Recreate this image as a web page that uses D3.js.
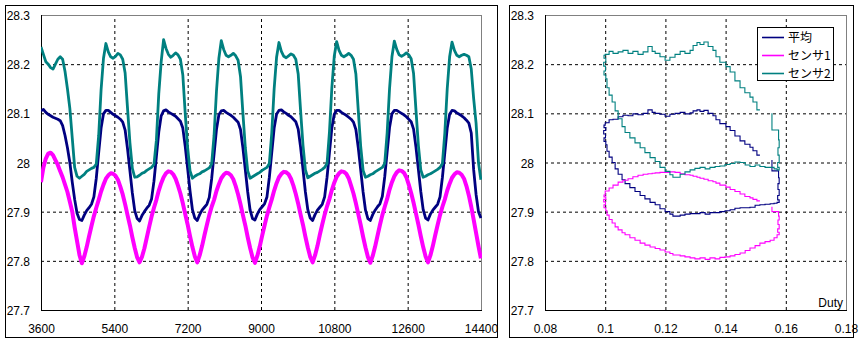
<!DOCTYPE html>
<html>
<head>
<meta charset="utf-8">
<script src="https://cdn.jsdelivr.net/npm/d3@7"></script>
<style>
  html, body { margin: 0; padding: 0; background: #fff; }
  svg { display: block; }
  text { font-family: "Liberation Sans", Arial, sans-serif; font-size: 12px; fill: #000; }
  text.cjk { font-family: "Noto Sans CJK JP", "Noto Sans", sans-serif; }
</style>
</head>
<body>
<svg id="chart" width="865" height="343"></svg>
<script>
// ---- time series: one sample every 59 s starting at 3600 s ----
const T0 = 3600, DT = 59;

const avgTemp = [
  28.105, 28.108, 28.102, 28.098, 28.095, 28.092, 28.09, 28.088, 28.085, 28.075, 28.055, 28.03, 28.0, 27.96, 27.925, 27.897, 27.884,
  27.882, 27.893, 27.902, 27.908, 27.915, 27.93, 27.968, 28.02, 28.07, 28.099, 28.106, 28.106, 28.102, 28.098, 28.095, 28.092, 28.088, 28.082, 28.066, 28.028, 27.983, 27.938, 27.902, 27.886,
  27.881, 27.892, 27.9, 27.907, 27.913, 27.926, 27.962, 28.012, 28.062, 28.095, 28.105, 28.107, 28.103, 28.1, 28.097, 28.094, 28.089, 28.084, 28.07, 28.033, 27.988, 27.942, 27.904, 27.887,
  27.882, 27.894, 27.903, 27.909, 27.915, 27.929, 27.967, 28.017, 28.067, 28.097, 28.105, 28.106, 28.102, 28.099, 28.096, 28.092, 28.087, 28.082, 28.067, 28.03, 27.985, 27.94, 27.903, 27.886,
  27.883, 27.895, 27.904, 27.91, 27.916, 27.93, 27.97, 28.02, 28.07, 28.098, 28.106, 28.107, 28.103, 28.1, 28.096, 28.093, 28.088, 28.083, 28.068, 28.031, 27.986, 27.94, 27.904, 27.887,
  27.882, 27.894, 27.903, 27.909, 27.915, 27.93, 27.97, 28.02, 28.07, 28.098, 28.106, 28.106, 28.102, 28.099, 28.096, 28.092, 28.088, 28.082, 28.067, 28.03, 27.985, 27.94, 27.903, 27.886,
  27.882, 27.894, 27.903, 27.91, 27.916, 27.931, 27.971, 28.021, 28.071, 28.099, 28.106, 28.106, 28.103, 28.1, 28.097, 28.093, 28.088, 28.083, 28.068, 28.031, 27.986, 27.941, 27.904, 27.887,
  27.883, 27.895, 27.903, 27.909, 27.915, 27.93, 27.97, 28.02, 28.07, 28.098, 28.106, 28.105, 28.101, 28.098, 28.095, 28.091, 28.086, 28.08, 28.06, 27.985, 27.935, 27.9, 27.887
];

const sensor1 = [
  27.96, 27.99, 28.008, 28.018, 28.02, 28.015, 28.005, 27.995, 27.982, 27.97, 27.955, 27.94, 27.92, 27.9, 27.868, 27.84, 27.812,
  27.795, 27.809, 27.828, 27.85, 27.871, 27.891, 27.908, 27.924, 27.941, 27.955, 27.967, 27.974, 27.978, 27.977, 27.973, 27.965, 27.951, 27.935, 27.915, 27.893, 27.872, 27.848, 27.826, 27.807,
  27.797, 27.808, 27.825, 27.847, 27.869, 27.89, 27.908, 27.924, 27.943, 27.958, 27.97, 27.978, 27.982, 27.981, 27.976, 27.967, 27.953, 27.937, 27.917, 27.895, 27.874, 27.85, 27.828, 27.809,
  27.797, 27.811, 27.83, 27.852, 27.873, 27.893, 27.91, 27.924, 27.942, 27.956, 27.968, 27.975, 27.979, 27.978, 27.974, 27.966, 27.952, 27.935, 27.915, 27.893, 27.872, 27.848, 27.826, 27.807,
  27.796, 27.81, 27.829, 27.851, 27.872, 27.892, 27.909, 27.925, 27.943, 27.958, 27.97, 27.977, 27.981, 27.98, 27.976, 27.967, 27.953, 27.936, 27.916, 27.894, 27.873, 27.849, 27.827, 27.808,
  27.797, 27.811, 27.83, 27.853, 27.874, 27.894, 27.911, 27.926, 27.944, 27.959, 27.971, 27.978, 27.982, 27.981, 27.977, 27.968, 27.953, 27.937, 27.917, 27.895, 27.873, 27.849, 27.827, 27.808,
  27.796, 27.81, 27.829, 27.851, 27.873, 27.893, 27.91, 27.926, 27.945, 27.96, 27.972, 27.98, 27.984, 27.983, 27.979, 27.97, 27.955, 27.938, 27.918, 27.896, 27.874, 27.85, 27.828, 27.809,
  27.797, 27.811, 27.83, 27.852, 27.873, 27.893, 27.91, 27.925, 27.943, 27.957, 27.969, 27.976, 27.98, 27.979, 27.975, 27.967, 27.952, 27.933, 27.91, 27.884, 27.857, 27.83, 27.805
];

const sensor2 = [
  28.235, 28.22, 28.205, 28.2, 28.193, 28.19, 28.2, 28.21, 28.215, 28.21, 28.185, 28.15, 28.11, 28.05, 27.99, 27.972, 27.968,
  27.972, 27.976, 27.982, 27.985, 27.988, 27.99, 27.997, 28.055, 28.148, 28.212, 28.242, 28.225, 28.215, 28.212, 28.216, 28.222, 28.219, 28.21, 28.182, 28.11, 28.04, 27.988, 27.97, 27.971,
  27.974, 27.978, 27.98, 27.984, 27.987, 27.99, 27.996, 28.045, 28.14, 28.205, 28.25, 28.232, 28.22, 28.214, 28.218, 28.223, 28.219, 28.21, 28.178, 28.1, 28.03, 27.983, 27.968, 27.972,
  27.975, 27.977, 27.981, 27.983, 27.986, 27.989, 27.997, 28.055, 28.145, 28.212, 28.248, 28.23, 28.218, 28.215, 28.218, 28.222, 28.217, 28.208, 28.175, 28.1, 28.03, 27.983, 27.968, 27.971,
  27.974, 27.977, 27.98, 27.984, 27.987, 27.99, 27.998, 28.06, 28.15, 28.214, 28.244, 28.226, 28.216, 28.213, 28.217, 28.221, 28.218, 28.21, 28.18, 28.105, 28.035, 27.985, 27.969, 27.972,
  27.975, 27.978, 27.98, 27.983, 27.986, 27.99, 27.998, 28.062, 28.152, 28.216, 28.246, 28.228, 28.218, 28.215, 28.218, 28.222, 28.218, 28.21, 28.18, 28.105, 28.033, 27.984, 27.97, 27.972,
  27.975, 27.977, 27.981, 27.984, 27.987, 27.99, 27.998, 28.06, 28.15, 28.215, 28.247, 28.23, 28.219, 28.216, 28.219, 28.223, 28.219, 28.211, 28.181, 28.106, 28.035, 27.985, 27.97, 27.972,
  27.975, 27.977, 27.98, 27.983, 27.986, 27.99, 27.998, 28.06, 28.15, 28.215, 28.245, 28.228, 28.218, 28.215, 28.218, 28.22, 28.218, 28.215, 28.19, 28.13, 28.08, 28.0, 27.965
];

// ---- one control cycle: temperature against heater duty ----
const loopDuty = [
  0.1514, 0.1504, 0.1491, 0.1481, 0.1464, 0.1448, 0.1431, 0.1415, 0.1401, 0.1381, 0.1368, 0.1358, 0.1342, 0.1328, 0.1315, 0.1305, 0.1292, 0.1282,
  0.1265, 0.1249, 0.1232, 0.1215, 0.1199, 0.1182, 0.1166, 0.1156, 0.1142, 0.1126, 0.1109, 0.1092, 0.1076, 0.1059, 0.1043, 0.1026, 0.1013, 0.1000,
  0.0996, 0.1002, 0.0995, 0.1001, 0.0996, 0.1002,
  0.1006, 0.1013, 0.1023, 0.1033, 0.1043, 0.1056, 0.1066, 0.1082, 0.1099, 0.1116, 0.1132, 0.1149, 0.1166, 0.1182, 0.1199, 0.1215, 0.1225, 0.1249, 0.1265,
  0.1282, 0.1298, 0.1315, 0.1332, 0.1348, 0.1365, 0.1381, 0.1398, 0.1415, 0.1431, 0.1448, 0.1465, 0.1481, 0.1498, 0.1514, 0.1531, 0.1548, 0.1561, 0.1571,
  0.1578, 0.1573, 0.1578, 0.1574, 0.1578, 0.1576, 0.1554
];

const loopAvg = [
  28.015, 28.024, 28.031, 28.037, 28.044, 28.054, 28.065, 28.073, 28.079, 28.087, 28.095, 28.1, 28.106, 28.104, 28.107, 28.105, 28.101, 28.099,
  28.102, 28.1, 28.098, 28.094, 28.098, 28.1, 28.102, 28.107, 28.1, 28.097, 28.099, 28.095, 28.096, 28.093, 28.088, 28.087, 28.081, 28.076,
  28.071, 28.065, 28.058, 28.05, 28.043, 28.036,
  28.023, 28.011, 28.0, 27.987, 27.976, 27.965, 27.957, 27.949, 27.941, 27.933, 27.926, 27.919, 27.914, 27.906, 27.9, 27.895, 27.891, 27.893, 27.895,
  27.896, 27.896, 27.898, 27.895, 27.898, 27.898, 27.9, 27.902, 27.904, 27.907, 27.908, 27.908, 27.909, 27.913, 27.914, 27.915, 27.916, 27.917, 27.919,
  27.924, 27.933, 27.945, 27.957, 27.969, 27.983, 28.005
];

const loopS1 = [
  27.922, 27.925, 27.928, 27.931, 27.936, 27.941, 27.945, 27.95, 27.954, 27.958, 27.961, 27.963, 27.966, 27.968, 27.97, 27.972, 27.974, 27.975,
  27.977, 27.98, 27.981, 27.98, 27.98, 27.979, 27.978, 27.977, 27.976, 27.974, 27.971, 27.967, 27.964, 27.96, 27.954, 27.948, 27.942, 27.934,
  27.93, 27.925, 27.92, 27.914, 27.908, 27.902,
  27.893, 27.884, 27.877, 27.869, 27.863, 27.857, 27.853, 27.847, 27.842, 27.836, 27.832, 27.828, 27.825, 27.822, 27.818, 27.815, 27.812, 27.81, 27.808,
  27.806, 27.804, 27.806, 27.803, 27.806, 27.804, 27.807, 27.808, 27.81, 27.813, 27.816, 27.821, 27.826, 27.831, 27.836, 27.839, 27.842, 27.847, 27.853,
  27.858, 27.865, 27.874, 27.883, 27.891, 27.9, 27.91
];

const loopS2 = [
  28.107, 28.123, 28.133, 28.142, 28.152, 28.166, 28.184, 28.195, 28.204, 28.215, 28.228, 28.236, 28.245, 28.24, 28.244, 28.238, 28.228, 28.222,
  28.226, 28.22, 28.214, 28.208, 28.215, 28.222, 28.226, 28.236, 28.225, 28.22, 28.226, 28.222, 28.228, 28.225, 28.222, 28.226, 28.22, 28.218,
  28.212, 28.204, 28.196, 28.186, 28.178, 28.17,
  28.152, 28.137, 28.123, 28.105, 28.089, 28.073, 28.061, 28.05, 28.04, 28.03, 28.02, 28.01, 28.002, 27.99, 27.982, 27.975, 27.97, 27.976, 27.981,
  27.985, 27.988, 27.99, 27.987, 27.99, 27.992, 27.993, 27.996, 27.998, 28.001, 28.0, 27.995, 27.992, 27.995, 27.992, 27.99, 27.99, 27.987, 27.985,
  27.99, 28.0, 28.015, 28.03, 28.046, 28.066, 28.1
];

// ---- axes and labels ----
const timeTicks = [3600, 5400, 7200, 9000, 10800, 12600, 14400];
const tempTicks = [27.7, 27.8, 27.9, 28.0, 28.1, 28.2, 28.3];
const dutyTicks = [0.08, 0.10, 0.12, 0.14, 0.16, 0.18];
const seriesNames = ["平均", "センサ1", "センサ2"];
const seriesColors = ["#000080", "#ff00ff", "#008080"];
const dutyTitle = "Duty";

const svg = d3.select("#chart");
svg.append("rect").attr("width", 865).attr("height", 343).attr("fill", "#fff");

const times = avgTemp.map((_, i) => T0 + i * DT);

const xTime = d3.scaleLinear().domain([3600, 14400]).range([41, 481]);
const xDuty = d3.scaleLinear().domain([0.08, 0.18]).range([545, 846]);
const yTemp = d3.scaleLinear().domain([27.7, 28.3]).range([310, 15]);

const fmtTemp = d => String(+d.toFixed(1));
const fmtDuty = d => String(+d.toFixed(2));

// chart-area borders
svg.append("rect").attr("x", 5.5).attr("y", 5.5).attr("width", 492).attr("height", 332)
  .attr("fill", "none").attr("stroke", "#000");
svg.append("rect").attr("x", 509.5).attr("y", 5.5).attr("width", 344).attr("height", 332)
  .attr("fill", "none").attr("stroke", "#000");

function drawFrame(x) {
  const [xa, xb] = x.range();
  const [yb, ya] = yTemp.range();
  const g = svg.append("g");

  // dashed gridlines
  g.append("g").attr("transform", `translate(${xa},0)`)
    .call(d3.axisLeft(yTemp).tickValues(tempTicks.slice(1, -1)).tickSize(-(xb - xa)).tickFormat(""))
    .call(s => s.select(".domain").remove())
    .call(s => s.selectAll("line").attr("stroke", "#000").attr("stroke-dasharray", "3,3"));
  const xt = x === xTime ? timeTicks : dutyTicks;
  g.append("g").attr("transform", `translate(0,${yb})`)
    .call(d3.axisBottom(x).tickValues(xt.slice(1, -1)).tickSize(-(yb - ya)).tickFormat(""))
    .call(s => s.select(".domain").remove())
    .call(s => s.selectAll("line").attr("stroke", "#000").attr("stroke-dasharray", "3,3"));

  // plot area edges: top/right grey, left/bottom black
  g.append("line").attr("x1", xa).attr("x2", xb + 0.5).attr("y1", ya + 0.5).attr("y2", ya + 0.5).attr("stroke", "#808080");
  g.append("line").attr("x1", xb + 0.5).attr("x2", xb + 0.5).attr("y1", ya).attr("y2", yb).attr("stroke", "#808080");
  g.append("line").attr("x1", xa + 0.5).attr("x2", xa + 0.5).attr("y1", ya).attr("y2", yb + 0.5).attr("stroke", "#000");
  g.append("line").attr("x1", xa).attr("x2", xb + 1).attr("y1", yb + 0.5).attr("y2", yb + 0.5).attr("stroke", "#000");

  // tick labels
  g.append("g").attr("transform", `translate(${xa},0)`)
    .call(d3.axisLeft(yTemp).tickValues(tempTicks).tickSize(0).tickPadding(11).tickFormat(fmtTemp))
    .call(s => s.select(".domain").remove())
    .call(s => s.selectAll("text").attr("dy", "0.38em"));
  g.append("g").attr("transform", `translate(0,${yb})`)
    .call(d3.axisBottom(x).tickValues(xt).tickSize(0).tickPadding(14).tickFormat(x === xTime ? d3.format("d") : fmtDuty))
    .call(s => s.select(".domain").remove());
}

drawFrame(xTime);
drawFrame(xDuty);

// left panel: temperatures over time
const timeLine = d3.line().x((d, i) => xTime(times[i])).y(d => yTemp(d));
const timeSeries = [avgTemp, sensor1, sensor2];
const timeWidths = [2.8, 4, 2.8];
svg.append("clipPath").attr("id", "clipL").append("rect")
  .attr("x", 41).attr("y", 15).attr("width", 441).attr("height", 295);
timeSeries.forEach((s, k) => {
  svg.append("path").attr("d", timeLine(s)).attr("fill", "none")
    .attr("stroke", seriesColors[k]).attr("stroke-width", timeWidths[k])
    .attr("stroke-linejoin", "round").attr("clip-path", "url(#clipL)");
});

// right panel: temperatures against duty
const loopLine = d3.line().curve(d3.curveStepAfter).x((d, i) => xDuty(loopDuty[i])).y(d => yTemp(d));
[loopAvg, loopS1, loopS2].forEach((s, k) => {
  svg.append("path").attr("d", loopLine(s)).attr("fill", "none")
    .attr("stroke", seriesColors[k]).attr("stroke-width", 1.1);
});

svg.append("text").attr("x", 843).attr("y", 307).attr("text-anchor", "end").text(dutyTitle);

// legend
const lg = svg.append("g");
lg.append("rect").attr("x", 757.5).attr("y", 27.5).attr("width", 76).attr("height", 53)
  .attr("fill", "#fff").attr("stroke", "#000");
const rowY = [37.5, 55.5, 73.5];
seriesNames.forEach((name, k) => {
  lg.append("line").attr("x1", 762).attr("x2", 784).attr("y1", rowY[k]).attr("y2", rowY[k])
    .attr("stroke", seriesColors[k]).attr("stroke-width", 1.6);
  lg.append("text").attr("class", "cjk").attr("x", 788).attr("y", rowY[k]).attr("dy", "0.36em").text(name);
});
</script>
</body>
</html>
